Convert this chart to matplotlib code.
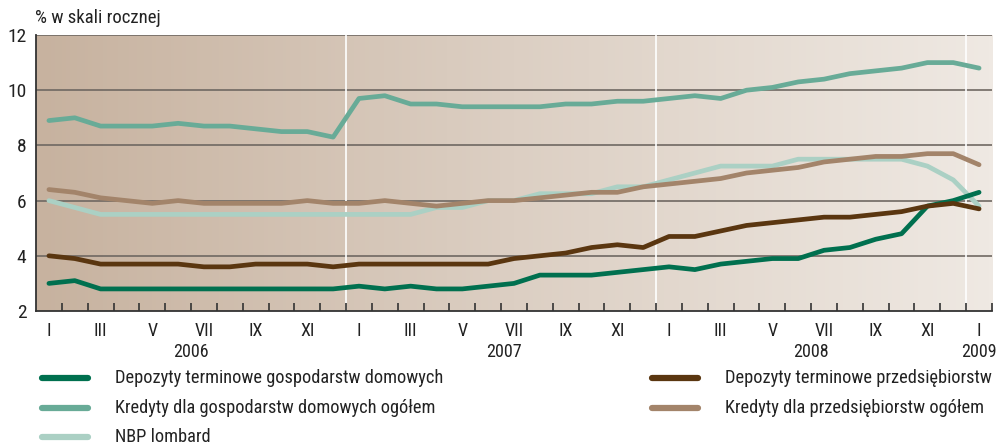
import matplotlib
matplotlib.use('Agg')
import matplotlib.pyplot as plt
import numpy as np
from matplotlib.colors import LinearSegmentedColormap
from matplotlib.lines import Line2D
from matplotlib.transforms import blended_transform_factory

plt.rcParams['font.family'] = ['Roboto Condensed', 'Roboto', 'DejaVu Sans']

# miesiące: I 2006 ... I 2009
months = ['I', 'II', 'III', 'IV', 'V', 'VI', 'VII', 'VIII', 'IX', 'X', 'XI', 'XII'] * 3 + ['I']
years = ['2006', '2007', '2008', '2009']

dep_gd = [3.0, 3.1, 2.8, 2.8, 2.8, 2.8, 2.8, 2.8, 2.8, 2.8, 2.8, 2.8,
          2.9, 2.8, 2.9, 2.8, 2.8, 2.9, 3.0, 3.3, 3.3, 3.3, 3.4, 3.5,
          3.6, 3.5, 3.7, 3.8, 3.9, 3.9, 4.2, 4.3, 4.6, 4.8, 5.8, 6.0,
          6.3]
kred_gd = [8.9, 9.0, 8.7, 8.7, 8.7, 8.8, 8.7, 8.7, 8.6, 8.5, 8.5, 8.3,
           9.7, 9.8, 9.5, 9.5, 9.4, 9.4, 9.4, 9.4, 9.5, 9.5, 9.6, 9.6,
           9.7, 9.8, 9.7, 10.0, 10.1, 10.3, 10.4, 10.6, 10.7, 10.8, 11.0, 11.0,
           10.8]
lombard = [6.0, 5.75, 5.5, 5.5, 5.5, 5.5, 5.5, 5.5, 5.5, 5.5, 5.5, 5.5,
           5.5, 5.5, 5.5, 5.75, 5.75, 6.0, 6.0, 6.25, 6.25, 6.25, 6.5, 6.5,
           6.75, 7.0, 7.25, 7.25, 7.25, 7.5, 7.5, 7.5, 7.5, 7.5, 7.25, 6.75,
           5.8]
dep_p = [4.0, 3.9, 3.7, 3.7, 3.7, 3.7, 3.6, 3.6, 3.7, 3.7, 3.7, 3.6,
         3.7, 3.7, 3.7, 3.7, 3.7, 3.7, 3.9, 4.0, 4.1, 4.3, 4.4, 4.3,
         4.7, 4.7, 4.9, 5.1, 5.2, 5.3, 5.4, 5.4, 5.5, 5.6, 5.8, 5.9,
         5.7]
kred_p = [6.4, 6.3, 6.1, 6.0, 5.9, 6.0, 5.9, 5.9, 5.9, 5.9, 6.0, 5.9,
          5.9, 6.0, 5.9, 5.8, 5.9, 6.0, 6.0, 6.1, 6.2, 6.3, 6.3, 6.5,
          6.6, 6.7, 6.8, 7.0, 7.1, 7.2, 7.4, 7.5, 7.6, 7.6, 7.7, 7.7,
          7.3]

series = [
    ('Depozyty terminowe gospodarstw domowych', dep_gd, '#00704f', 4),
    ('Kredyty dla gospodarstw domowych ogółem', kred_gd, '#68ab97', 3),
    ('NBP lombard', lombard, '#abd0c4', 1),
    ('Depozyty terminowe przedsiębiorstw', dep_p, '#5a3610', 5),
    ('Kredyty dla przedsiębiorstw ogółem', kred_p, '#a3846a', 2),
]

x = np.arange(len(months))
W, H = 997, 446
fig = plt.figure(figsize=(W / 100, H / 100), dpi=100)
ax = fig.add_axes([36 / W, 1 - 311 / H, (992 - 36) / W, (311 - 35) / H])

# tło - gradient
cmap = LinearSegmentedColormap.from_list('bg', ['#c7b29f', '#dccfc3', '#efe9e3'])
ax.imshow(np.linspace(0, 1, 256)[None, :], extent=(-0.5, len(x) - 0.5, 2, 12),
          aspect='auto', cmap=cmap, zorder=0)

for y in [4, 6, 8, 10, 12]:
    ax.axhline(y, color='#6f6862', lw=1.2, zorder=1)
for xb in [11.5, 23.5, 35.5]:
    ax.axvline(xb, color='white', lw=1.2, zorder=1)

for name, vals, col, z in series:
    ax.plot(x, vals, color=col, lw=3.4, solid_capstyle='round', zorder=2 + z)

ax.set_xlim(-0.5, len(x) - 0.5)
ax.set_ylim(2, 12)
ax.set_yticks([2, 4, 6, 8, 10, 12])
ax.tick_params(axis='y', length=0, pad=7, labelsize=14, colors='#222222')
ax.set_xticks(x[::2])
ax.set_xticklabels(months[::2])
ax.set_xticks(np.arange(0.5, len(x), 1), minor=True)
ax.tick_params(axis='x', which='major', length=0, pad=8, labelsize=13, colors='#222222')
ax.tick_params(axis='x', which='minor', direction='in', length=6, width=1.2, color='#333333')

ax.spines['right'].set_visible(False)
ax.spines['top'].set_visible(False)
for s in ['left', 'bottom']:
    ax.spines[s].set_color('#333333')
    ax.spines[s].set_linewidth(1.3)

tr = blended_transform_factory(ax.transData, fig.transFigure)
for pos, yr in zip([5.5, 17.6, 29.5, 36], years):
    ax.text(pos, 1 - 352 / H, yr, transform=tr, ha='center', va='center',
            fontsize=13, color='#222222')

fig.text(35 / W, 1 - 18 / H, '% w skali rocznej', ha='left', va='center',
         fontsize=13.5, color='#222222')

# legenda
rows = [378, 408, 437]
for i, (name, vals, col, z) in enumerate(series):
    cx = 42 if i < 3 else 652
    ry = 1 - rows[i % 3] / H
    fig.add_artist(Line2D([cx / W, (cx + 46) / W], [ry, ry], color=col, lw=4.5,
                          solid_capstyle='round', transform=fig.transFigure))
    fig.text((cx + 73) / W, ry, name, ha='left', va='center', fontsize=13.2, color='#222222')

fig.savefig('out.png', dpi=100)
